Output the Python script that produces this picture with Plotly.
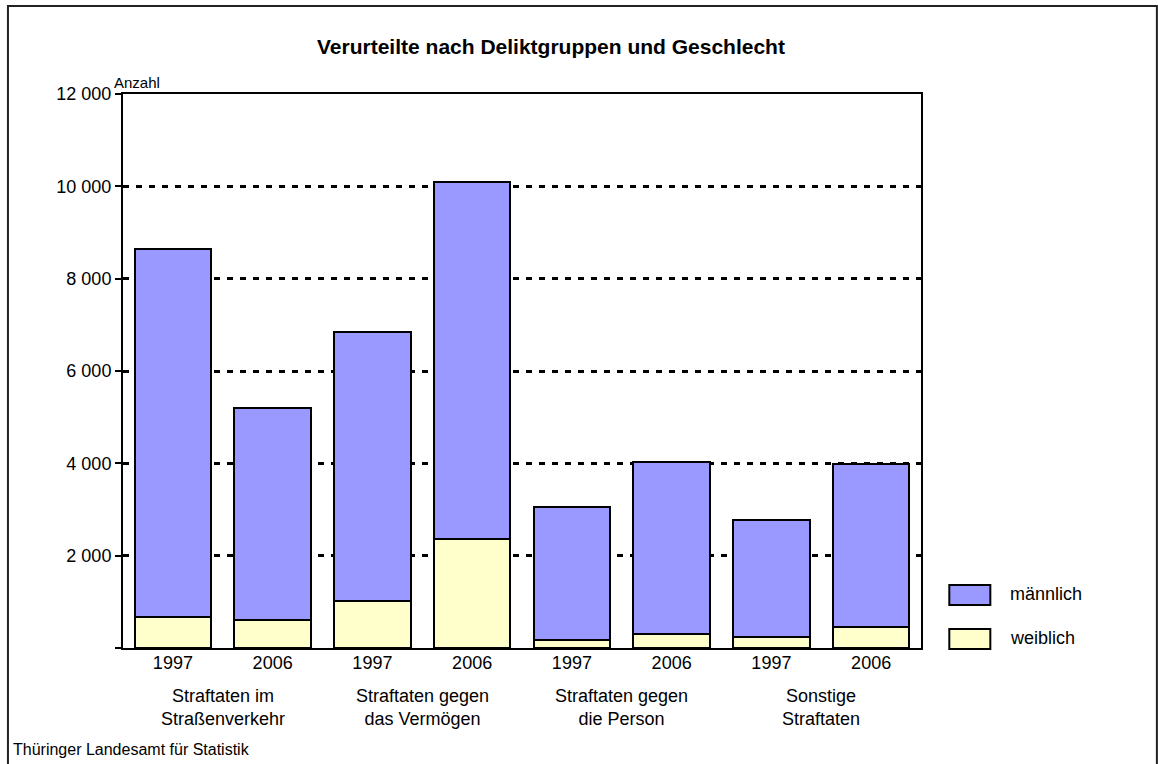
import plotly.graph_objects as go

# ---------------- data ----------------
years = ["1997", "2006", "1997", "2006", "1997", "2006", "1997", "2006"]
groups = [
    "Straftaten im<br>Straßenverkehr",
    "Straftaten gegen<br>das Vermögen",
    "Straftaten gegen<br>die Person",
    "Sonstige<br>Straftaten",
]
weiblich = [680, 605, 1020, 2355, 175, 300, 245, 455]
maennlich = [7965, 4595, 5815, 7735, 2885, 3720, 2530, 3535]
y_ticks = [0, 2000, 4000, 6000, 8000, 10000, 12000]
y_ticktext = ["", "2 000", "4 000", "6 000", "8 000", "10 000", "12 000"]

# ---------------- layout constants ----------------
W, H = 1158, 764
L, R, T, B = 123, 920.7, 94, 648
FONT = "Arial, Liberation Sans, sans-serif"
C_M = "#9999FF"
C_W = "#FFFFCC"

def px(x):
    return (x - L) / (R - L)

def py(y):
    return (B - y) / (B - T)

pos = list(range(len(years)))

fig = go.Figure()
fig.add_trace(go.Bar(
    x=pos, y=weiblich, name="weiblich",
    marker=dict(color=C_W, line=dict(color="black", width=2)),
    showlegend=False, hoverinfo="y",
))
fig.add_trace(go.Bar(
    x=pos, y=maennlich, name="männlich",
    marker=dict(color=C_M, line=dict(color="black", width=2)),
    showlegend=False, hoverinfo="y",
))

annotations = []
# title
annotations.append(dict(
    text="<b>Verurteilte nach Deliktgruppen und Geschlecht</b>",
    xref="paper", yref="paper", x=px(551), y=py(46),
    xanchor="center", yanchor="middle", showarrow=False,
    font=dict(family=FONT, size=21, color="black"),
))
# y axis unit label
annotations.append(dict(
    text="Anzahl", xref="paper", yref="paper", x=px(112), y=py(83),
    xanchor="left", yanchor="middle", showarrow=False,
    font=dict(family=FONT, size=15, color="black"),
))
# group labels
for i, g in enumerate(groups):
    annotations.append(dict(
        text=g, xref="x", yref="paper", x=2 * i + 0.5, y=py(707),
        xanchor="center", yanchor="middle", showarrow=False,
        font=dict(family=FONT, size=18, color="black"),
    ))
# source
annotations.append(dict(
    text="Thüringer Landesamt für Statistik", xref="paper", yref="paper",
    x=px(11), y=py(749), xanchor="left", yanchor="middle", showarrow=False,
    font=dict(family=FONT, size=16, color="black"),
))

shapes = []
# outer frame
shapes.append(dict(type="rect", xref="paper", yref="paper",
                   x0=px(8), x1=px(1156.5), y0=py(770), y1=py(6),
                   line=dict(color="#222222", width=2), layer="below"))
# legend
legend_items = [("männlich", C_M, 585, 605), ("weiblich", C_W, 629, 649)]
for name, col, y0, y1 in legend_items:
    shapes.append(dict(type="rect", xref="paper", yref="paper",
                       x0=px(949), x1=px(990), y0=py(y1), y1=py(y0),
                       fillcolor=col, line=dict(color="black", width=2)))
    annotations.append(dict(
        text=name, xref="paper", yref="paper", x=px(1008), y=py((y0 + y1) / 2 - 1),
        xanchor="left", yanchor="middle", showarrow=False,
        font=dict(family=FONT, size=18, color="black"),
    ))

fig.update_layout(
    width=W, height=H,
    barmode="stack", bargap=0.235,
    margin=dict(l=L, r=W - R, t=T, b=H - B, pad=0),
    paper_bgcolor="white", plot_bgcolor="white",
    font=dict(family=FONT, size=18, color="black"),
    showlegend=False,
    annotations=annotations, shapes=shapes,
)
fig.update_xaxes(
    range=[-0.5, 7.5], tickmode="array", tickvals=pos, ticktext=years,
    showgrid=False, zeroline=False, showline=True, linecolor="black",
    linewidth=2, mirror=True, ticks="", ticklabelstandoff=-3,
    tickfont=dict(family=FONT, size=18, color="black"),
)
fig.update_yaxes(
    range=[0, 12000], tickmode="array", tickvals=y_ticks, ticktext=y_ticktext,
    showgrid=True, gridcolor="black", gridwidth=2.5, griddash="6px,7px",
    zeroline=False, showline=True, linecolor="black", linewidth=2, mirror=True,
    ticks="outside", ticklen=6, tickwidth=2, tickcolor="black",
    tickfont=dict(family=FONT, size=18, color="black"),
)

fig.write_html(
    "out.html",
    config={"displayModeBar": False},
    post_script="document.body.style.margin='0';document.body.style.padding='0';",
)
